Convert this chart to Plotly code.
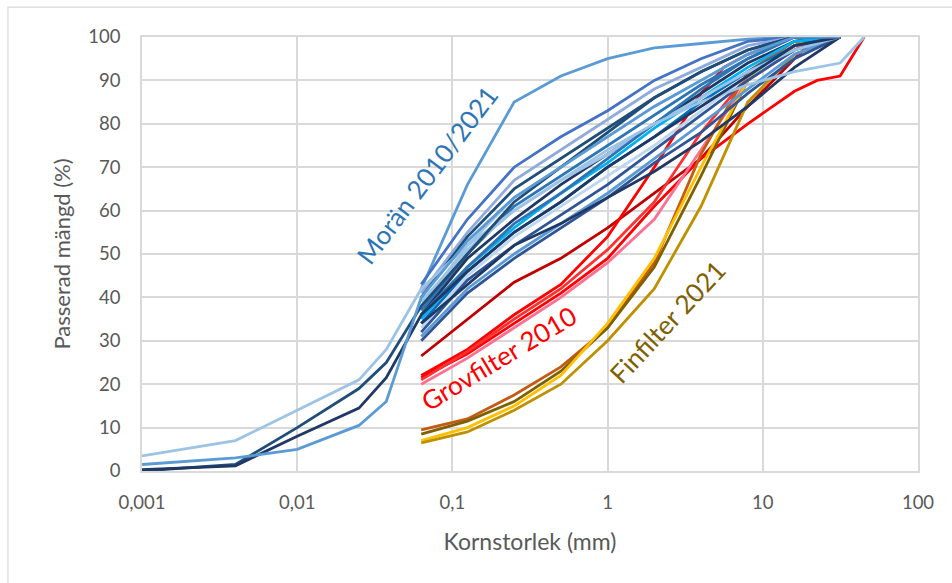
import plotly.graph_objects as go

# ---------------- data ----------------
SIEVE = [0.063, 0.125, 0.25, 0.5, 1, 2, 4, 8, 16, 31.5]
FINE_X = [0.001, 0.004, 0.01, 0.025, 0.0375]

# Grovfilter 2010 (red)
red_x = [
    [0.063, 0.125, 0.25, 0.5, 1, 2, 4, 8, 16, 22.4],
    [0.063, 0.125, 0.25, 0.5, 1, 2, 4, 5.6, 8, 16],
    [0.063, 0.125, 0.25, 0.5, 1, 2, 4, 8, 16, 22.4, 31.5, 45],
    [0.063, 0.125, 0.25, 0.5, 1, 2, 4, 8, 16, 22.4],
    [0.063, 0.125, 0.25, 0.5, 1, 2, 4, 8, 16, 22.4],
]
red_y = [
    [26.5, 35, 43.5, 49, 56, 64, 72, 84, 95, 100],
    [22, 28, 36, 43, 54, 70, 87, 93, 96, 100],
    [21.5, 27, 34, 41, 49, 61, 72, 80, 87.5, 90, 91, 100],
    [20, 26, 33, 40, 48, 58, 74, 90, 97, 100],
    [21, 27.5, 35, 42, 51, 62, 78, 91, 98, 100],
]
red_c = ["#C00000", "#FF0000", "#FF0000", "#FF6F91", "#FF3030"]

# Finfilter 2021 (yellow / brown)
fin_x = [
    [0.063, 0.125, 0.25, 0.5, 1, 2, 4, 8, 16, 22.4],
    [0.063, 0.125, 0.25, 0.5, 1, 2, 4, 8, 16, 22.4],
    [0.063, 0.125, 0.25, 0.5, 1, 2, 4, 8, 16, 22.4],
    [0.063, 0.125, 0.25, 0.5, 1, 2, 4, 8, 16, 31.5],
]
fin_y = [
    [9.5, 12, 17.5, 24, 33, 48, 73, 92, 99, 100],
    [8.5, 11.5, 16, 23, 33, 47, 68, 90, 98, 100],
    [7, 10, 15, 22, 34, 49, 70, 90, 98, 100],
    [6.5, 9, 14, 20, 30, 42, 61, 85, 96, 100],
]
fin_c = ["#C55A11", "#7F6000", "#FFC000", "#BF9000"]

# Morän 2010/2021 (blue) - sieve part
mor_y = [
    [42, 66, 85, 91, 95, 97.5, 98.5, 99.5, 100, 100],
    [43, 58, 70, 77, 83, 90, 95, 99, 100, 100],
    [41, 55, 67, 74, 81, 88, 93, 98, 100, 100],
    [40, 54, 65, 72, 79, 86, 92, 97, 100, 100],
    [38, 52, 63, 70, 77, 84, 90, 96, 100, 100],
    [37, 50, 61, 68, 75, 82, 89, 95, 100, 100],
    [36, 49, 58, 66, 73, 80, 87, 94, 99, 100],
    [35, 47, 56, 64, 71, 79, 86, 93, 99, 100],
    [34, 46, 55, 62, 70, 77, 85, 92, 98, 100],
    [33, 45, 54, 61, 68, 75, 83, 91, 97, 100],
    [32, 44, 52, 59, 66, 74, 82, 90, 97, 100],
    [31, 42, 50, 57, 64, 72, 80, 88, 96, 100],
    [30, 41, 49, 56, 63, 71, 78, 87, 95, 100],
    [34, 43, 52, 57, 63, 69, 76, 84, 93, 100],
    [39, 51, 60, 67, 73, 80, 86, 92, 97, 100],
    [36, 47, 57, 64, 72, 80, 88, 95, 100, 100],
]
mor_c = ["#5B9BD5", "#4472C4", "#8FAADC", "#1F4E79", "#9DC3E6", "#2E75B6",
         "#203864", "#00B0F0", "#0070C0", "#BDD7EE", "#2F5597", "#5B9BD5",
         "#305496", "#1F3864", "#9DC3E6", "#2E75B6"]

# Morän with fine (hydrometer) part
morf_y = [
    [3.5, 7, 14, 21, 28, 42, 52, 60, 67, 74, 80, 85, 89, 92, 94, 100],
    [0, 1.5, 10, 19, 25, 38, 50, 62, 70, 78, 86, 92, 97, 100, 100],
    [0.3, 1.2, 8, 14.5, 21.5, 36, 46, 55, 62, 70, 77, 84, 91, 98, 100],
    [1.5, 3, 5, 10.5, 16, 40, 53, 63, 70, 77, 84, 90, 96, 100, 100],
]
morf_x_tail = [
    [0.063, 0.125, 0.25, 0.5, 1, 2, 4, 8, 16, 31.5, 45],
    SIEVE,
    SIEVE,
    SIEVE,
]
morf_c = ["#9DC3E6", "#1F4E79", "#203864", "#5B9BD5"]

X_TICKS = [0.001, 0.01, 0.1, 1, 10, 100]
X_TICKTEXT = ["0,001", "0,01", "0,1", "1", "10", "100"]
Y_TICKS = [0, 10, 20, 30, 40, 50, 60, 70, 80, 90, 100]

# ---------------- figure ----------------
fig = go.Figure()
LW = 2.8

for xs, ys, c in zip(red_x, red_y, red_c):
    fig.add_trace(go.Scatter(x=xs, y=ys, mode="lines", line=dict(color=c, width=LW)))
for xs, ys, c in zip(fin_x, fin_y, fin_c):
    fig.add_trace(go.Scatter(x=xs, y=ys, mode="lines", line=dict(color=c, width=LW)))
for ys, c in zip(mor_y, mor_c):
    fig.add_trace(go.Scatter(x=SIEVE, y=ys, mode="lines", line=dict(color=c, width=LW)))
for ys, tail, c in zip(morf_y, morf_x_tail, morf_c):
    xs = FINE_X + tail
    fig.add_trace(go.Scatter(x=xs[:len(ys)], y=ys, mode="lines", line=dict(color=c, width=LW)))

FONT = "Lato, Carlito, Calibri, sans-serif"
fig.update_layout(
    width=952, height=583,
    margin=dict(l=142, r=34, t=37, b=112),
    paper_bgcolor="white", plot_bgcolor="white",
    showlegend=False,
    font=dict(family=FONT, color="#595959", size=18),
    xaxis=dict(
        type="log", range=[-3, 2],
        tickvals=X_TICKS, ticktext=X_TICKTEXT,
        showgrid=True, gridcolor="#D9D9D9", gridwidth=1.5,
        showline=True, linecolor="#D9D9D9", linewidth=1.5, mirror=True,
        zeroline=False, ticks="", ticklabelstandoff=14,
        tickfont=dict(size=18.5, color="#595959"),
        title=dict(text="Kornstorlek (mm)", font=dict(size=23, color="#595959"), standoff=22),
    ),
    yaxis=dict(
        range=[0, 100], tickvals=Y_TICKS,
        showgrid=True, gridcolor="#D9D9D9", gridwidth=1.5,
        showline=True, linecolor="#D9D9D9", linewidth=1.5, mirror=True,
        zeroline=False, ticks="", ticklabelstandoff=16,
        tickfont=dict(size=18.5, color="#595959"),
        title=dict(text="Passerad mängd (%)", font=dict(size=22, color="#595959"), standoff=12),
    ),
    shapes=[dict(type="rect", xref="paper", yref="paper",
                 x0=-0.1727, x1=1.1, y0=-0.3, y1=1.069,
                 line=dict(color="#D9D9D9", width=1.2), layer="below")],
    annotations=[
        dict(x=-1.1637, y=68.2, xref="x", yref="y", text="Morän 2010/2021",
             textangle=-53, showarrow=False, font=dict(size=26, color="#2E75B6", family=FONT)),
        dict(x=-0.70, y=26.0, xref="x", yref="y", text="Grovfilter 2010",
             textangle=-31, showarrow=False, font=dict(size=26, color="#FF0000", family=FONT)),
        dict(x=0.3827, y=34.3, xref="x", yref="y", text="Finfilter 2021",
             textangle=-47, showarrow=False, font=dict(size=26, color="#7F6000", family=FONT)),
    ],
)

fig.write_html("out.html")
